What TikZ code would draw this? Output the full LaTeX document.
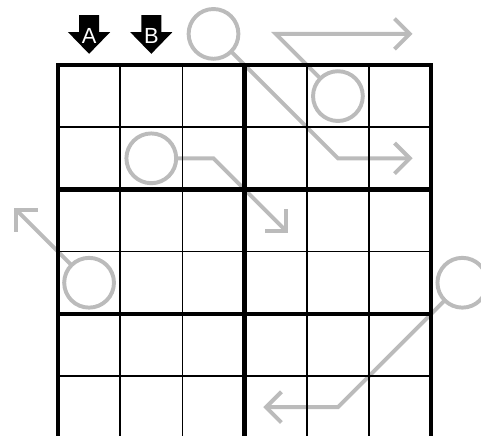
\documentclass[tikz,border=0pt]{standalone}
\usepackage{fontspec}
\setsansfont{Liberation Sans}
\usepackage{tikz}
\usetikzlibrary{
  arrows.meta,
}
\definecolor{routeGray}{HTML}{BBBBBB}
\tikzset{
  ring/.style={
    circle, draw=routeGray, line width=1.8pt, minimum size=0.8cm,
    inner sep=0pt, outer sep=0pt,
  },
  route/.style={
    draw=routeGray, line width=1.8pt,
    -{Straight Barb[length=7pt,width=14pt]},
  },
  thinGrid/.style={line width=0.7pt},
  thickGrid/.style={line width=2pt},
  markLabel/.style={
    font=\sffamily\fontsize{10}{10}\selectfont, text=white, inner sep=0pt,
  },
}

\begin{document}
\begin{tikzpicture}[x=1cm, y=-1cm]
\useasboundingbox (-0.932,-1.045) rectangle (6.80,5.95);
\clip (-0.932,-1.045) rectangle (6.80,5.95);

% rings and their routes, under the grid
\node[ring] (ringA) at (2.5,-0.5) {};
\node[ring] (ringB) at (4.5,0.5) {};
\node[ring] (ringC) at (1.5,1.5) {};
\node[ring] (ringD) at (0.5,3.5) {};
\node[ring] (ringE) at (6.5,3.5) {};
\coordinate (bendA) at (4.5,1.5);
\coordinate (tipA) at (5.7,1.5);
\coordinate (bendB) at (3.5,-0.5);
\coordinate (tipB) at (5.7,-0.5);
\coordinate (bendC) at (2.5,1.5);
\coordinate (tipC) at (3.7,2.7);
\coordinate (tipD) at (-0.7,2.3);
\coordinate (bendE) at (4.5,5.5);
\coordinate (tipE) at (3.3,5.5);
\draw[route] (ringA) -- (bendA) -- (tipA);
\draw[route] (ringB) -- (bendB) -- (tipB);
\draw[route] (ringC) -- (bendC) -- (tipC);
\draw[route] (ringD) -- (tipD);
\draw[route] (ringE) -- (bendE) -- (tipE);

% grid
\foreach \i in {0,...,6} {
  \draw[thinGrid] (\i,0) -- (\i,6);
  \draw[thinGrid] (0,\i) -- (6,\i);
}
\foreach \i in {3} \draw[thickGrid] (\i,0) -- (\i,6);
\foreach \i in {2,4} \draw[thickGrid] (0,\i) -- (6,\i);
\draw[thickGrid] (0,0) rectangle (6,6);

% column markers
\foreach \lbl/\cx in {A/0.5, B/1.5} {
  \fill (\cx-0.16,-0.80) -- (\cx+0.16,-0.80) -- (\cx+0.16,-0.53)
    -- (\cx+0.34,-0.53) -- (\cx,-0.18) -- (\cx-0.34,-0.53)
    -- (\cx-0.16,-0.53) -- cycle;
  \node[markLabel] (mark\lbl) at (\cx,-0.46) {\lbl};
}
\end{tikzpicture}
\end{document}
